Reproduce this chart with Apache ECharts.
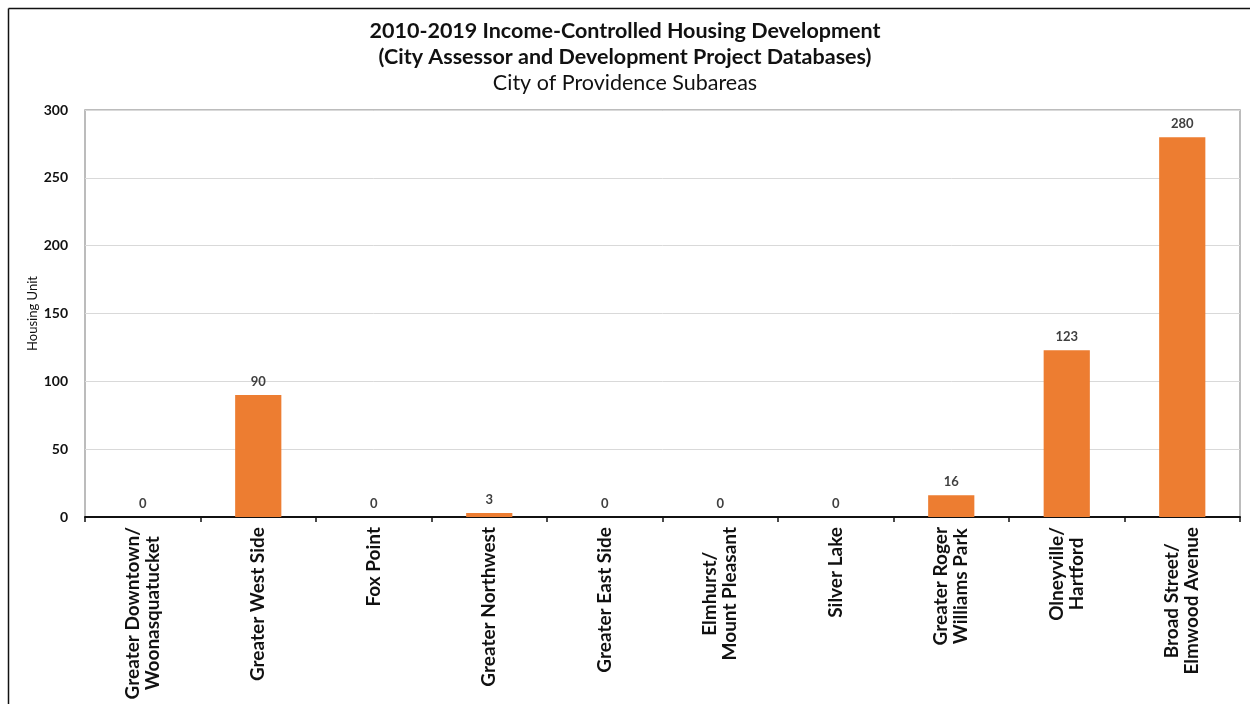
<!DOCTYPE html>
<html>
<head>
<meta charset="utf-8">
<script src="https://cdn.jsdelivr.net/npm/echarts@6/dist/echarts.min.js"></script>
<style>
  html, body { margin: 0; padding: 0; background: #fff; }
  #chart { width: 1250px; height: 704px; }
</style>
</head>
<body>
<div id="chart"></div>
<script>
// Subareas of the City of Providence
const subareas = [
  'Greater Downtown/\nWoonasquatucket',
  'Greater West Side',
  'Fox Point',
  'Greater Northwest',
  'Greater East Side',
  'Elmhurst/\nMount Pleasant',
  'Silver Lake',
  'Greater Roger\nWilliams Park',
  'Olneyville/\nHartford',
  'Broad Street/\nElmwood Avenue'
];
// Income-controlled housing units built 2010-2019
const housingUnits = [0, 90, 0, 3, 0, 0, 0, 16, 123, 280];

const titleLines = [
  '2010-2019 Income-Controlled Housing Development',
  '(City Assessor and Development Project Databases)',
  'City of Providence Subareas'
];

const FONT = 'Lato, "Open Sans", sans-serif';

const chart = echarts.init(document.getElementById('chart'), null, { renderer: 'canvas' });

chart.setOption({
  backgroundColor: '#ffffff',
  animation: false,
  title: {
    text: titleLines[0] + '\n' + titleLines[1],
    subtext: titleLines[2],
    left: 'center',
    top: 13,
    itemGap: 0,
    textStyle: { fontFamily: FONT, fontWeight: 'bold', fontSize: 21.5, color: '#111', lineHeight: 26 },
    subtextStyle: { fontFamily: FONT, fontWeight: 'normal', fontSize: 21.5, color: '#111', lineHeight: 26 }
  },
  graphic: [
    { type: 'line', shape: { x1: 8.5, y1: 8.5, x2: 1250, y2: 8.5 }, style: { stroke: '#111', lineWidth: 1.5 } },
    { type: 'line', shape: { x1: 8.5, y1: 8.5, x2: 8.5, y2: 704 }, style: { stroke: '#111', lineWidth: 1.5 } }
  ],
  grid: {
    left: 85, right: 10, top: 110, bottom: 187,
    show: true, borderColor: '#a6a6a6', borderWidth: 1.5, containLabel: false
  },
  xAxis: {
    type: 'category',
    data: subareas,
    axisLine: { show: true, lineStyle: { color: '#111', width: 2 } },
    axisTick: { show: true, alignWithLabel: false, length: 5, lineStyle: { color: '#111', width: 1.5 } },
    axisLabel: {
      interval: 0,
      rotate: 90,
      margin: 10,
      // each line of a two-line name is centred on the other
      formatter: v => v.split('\n').map(s => '{c|' + s + '}').join('\n'),
      rich: {
        c: {
          align: 'center',
          fontFamily: FONT,
          fontWeight: 'bold',
          fontSize: 19,
          lineHeight: 20,
          color: '#111'
        }
      }
    }
  },
  yAxis: {
    type: 'value',
    min: 0,
    max: 300,
    interval: 50,
    name: 'Housing Unit',
    nameLocation: 'middle',
    nameGap: 46,
    nameMoveOverlap: false,
    nameRotate: 90,
    nameTextStyle: { fontFamily: FONT, fontSize: 13, color: '#111' },
    axisLine: { show: false },
    axisTick: { show: false },
    axisLabel: { fontFamily: FONT, fontWeight: 'bold', fontSize: 14, color: '#111', margin: 17 },
    splitLine: { lineStyle: { color: '#d9d9d9', width: 1 } }
  },
  series: [{
    type: 'bar',
    data: housingUnits,
    barWidth: '40%',
    itemStyle: { color: '#ED7D31' },
    label: {
      show: true,
      position: 'top',
      distance: 7,
      fontFamily: FONT,
      fontWeight: 'bold',
      fontSize: 13,
      color: '#404040'
    }
  }]
});
</script>
</body>
</html>
